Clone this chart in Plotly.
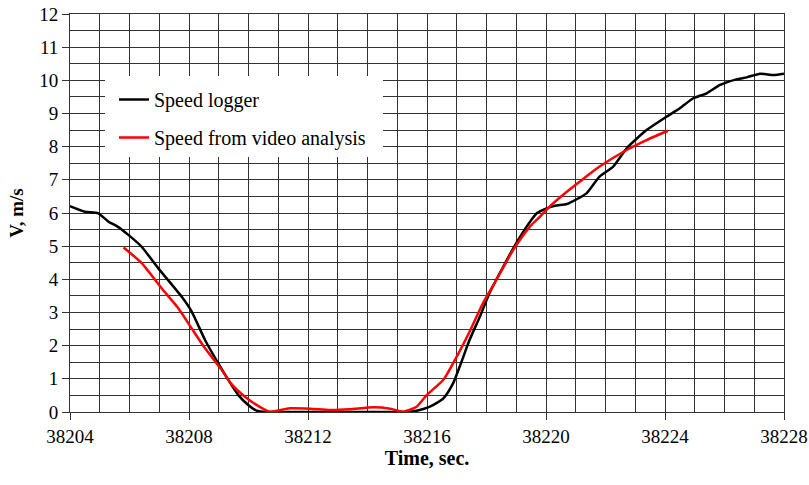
import plotly.graph_objects as go

logger_t = [38204, 38204.5, 38204.95, 38205.29, 38205.6, 38205.96, 38206.4, 38206.97, 38207.75,
            38208.09, 38208.54, 38208.98, 38209.32, 38209.66, 38209.99, 38210.27, 38210.6, 38211.5,
            38212.5, 38213.5, 38214.5, 38215.3, 38215.65, 38216.1, 38216.55, 38216.88, 38217.1,
            38217.43, 38217.78, 38218.1, 38218.56, 38219.0, 38219.35, 38219.69, 38220.02, 38220.3,
            38220.7, 38221.0, 38221.37, 38221.8, 38222.26, 38222.71, 38223.38, 38224.06, 38224.5,
            38224.95, 38225.4, 38225.85, 38226.4, 38226.75, 38227.2, 38227.65, 38228]
logger_v = [6.21, 6.04, 5.99, 5.74, 5.59, 5.34, 4.99, 4.33, 3.48,
            3.03, 2.17, 1.47, 0.97, 0.51, 0.21, 0.04, 0.0, 0.0,
            0.0, 0.0, 0.0, 0.0, 0.04, 0.16, 0.41, 0.87, 1.37,
            2.17, 2.88, 3.58, 4.38, 5.09, 5.59, 5.99, 6.14, 6.22,
            6.27, 6.4, 6.6, 7.1, 7.4, 7.95, 8.5, 8.91, 9.16,
            9.46, 9.61, 9.86, 10.03, 10.09, 10.2, 10.16, 10.2]

video_t = [38205.8, 38206.41, 38207.08, 38207.64, 38208.09, 38208.54, 38209.1, 38209.43, 38209.88,
           38210.33, 38210.72, 38211.39, 38212.07, 38212.74, 38213.4, 38214.2, 38214.76, 38215.2,
           38215.65, 38215.99, 38216.55, 38217.0, 38217.43, 38217.88, 38218.33, 38218.9, 38219.46,
           38219.8, 38220.13, 38220.7, 38221.14, 38221.8, 38222.71, 38223.38, 38224.1]
video_v = [4.96, 4.49, 3.73, 3.13, 2.52, 1.92, 1.27, 0.84, 0.46,
           0.18, 0.01, 0.11, 0.1, 0.06, 0.08, 0.14, 0.1, 0.01,
           0.16, 0.51, 0.97, 1.67, 2.42, 3.28, 3.98, 4.89, 5.59,
           5.89, 6.2, 6.64, 6.95, 7.4, 7.9, 8.2, 8.48]

x_tickvals = [38204, 38208, 38212, 38216, 38220, 38224, 38228]
y_tickvals = list(range(0, 13))

FONT = "Liberation Serif, Times New Roman, DejaVu Serif, serif"
GRID = "#333333"

# plot-area edges in page pixels (body margin removed below)
PL, PR, PT, PB = 70, 784, 14, 412
W, H = 809, 485

fig = go.Figure()
fig.add_trace(go.Scatter(x=logger_t, y=logger_v, mode="lines", name="Speed logger",
                         legendgroup="a",
                         line=dict(color="black", width=2.5, shape="spline", smoothing=0.6)))
fig.add_trace(go.Scatter(x=video_t, y=video_v, mode="lines", name="Speed from video analysis",
                         legendgroup="b",
                         line=dict(color="#ff0000", width=2.5, shape="spline", smoothing=0.6)))

pw, ph = PR - PL, PB - PT
# white box behind the legend (covers the grid); reference box 105-383 x 76-157
fig.add_shape(type="rect", xref="paper", yref="paper",
              x0=(105 - PL) / pw, x1=(383 - PL) / pw,
              y0=(PB - 157) / ph, y1=(PB - 76) / ph,
              fillcolor="white", line=dict(width=0), layer="above")

fig.update_layout(
    width=W, height=H,
    margin=dict(l=PL, r=W - PR, t=PT, b=H - PB, autoexpand=False),
    paper_bgcolor="white", plot_bgcolor="white",
    font=dict(family=FONT, size=19, color="black"),
    showlegend=True,
    legend=dict(x=(114 - PL) / pw, y=(PB - 80) / ph, xanchor="left", yanchor="top",
                bgcolor="rgba(0,0,0,0)", borderwidth=0, tracegroupgap=9,
                font=dict(family=FONT, size=20, color="black"), itemwidth=30),
    xaxis=dict(range=[38204, 38228], tickvals=x_tickvals, ticktext=[str(v) for v in x_tickvals],
               showgrid=False, ticks="outside", ticklen=7, tickcolor=GRID, tickwidth=1,
               showline=True, linecolor=GRID, linewidth=1, mirror=True, zeroline=False,
               automargin=False, ticklabeloverflow="allow",
               minor=dict(dtick=1, showgrid=True, gridcolor=GRID, gridwidth=1, ticks=""),
               title=dict(text="<b>Time, sec.</b>", font=dict(family=FONT, size=20), standoff=3),
               tickfont=dict(family=FONT, size=19)),
    yaxis=dict(range=[0, 12], tickvals=y_tickvals, showgrid=True, gridcolor=GRID, gridwidth=1,
               ticks="outside", ticklen=7, tickcolor=GRID, tickwidth=1,
               showline=True, linecolor=GRID, linewidth=1, mirror=True, zeroline=False,
               automargin=False, ticklabeloverflow="allow",
               minor=dict(dtick=0.5, showgrid=True, gridcolor=GRID, gridwidth=1, ticks=""),
               title=dict(text="<b>V, m/s</b>", font=dict(family=FONT, size=19), standoff=10),
               tickfont=dict(family=FONT, size=19)),
)

fig.write_html("out.html", config={"displayModeBar": False},
               post_script="document.body.style.margin='0';document.body.style.overflow='hidden';")
